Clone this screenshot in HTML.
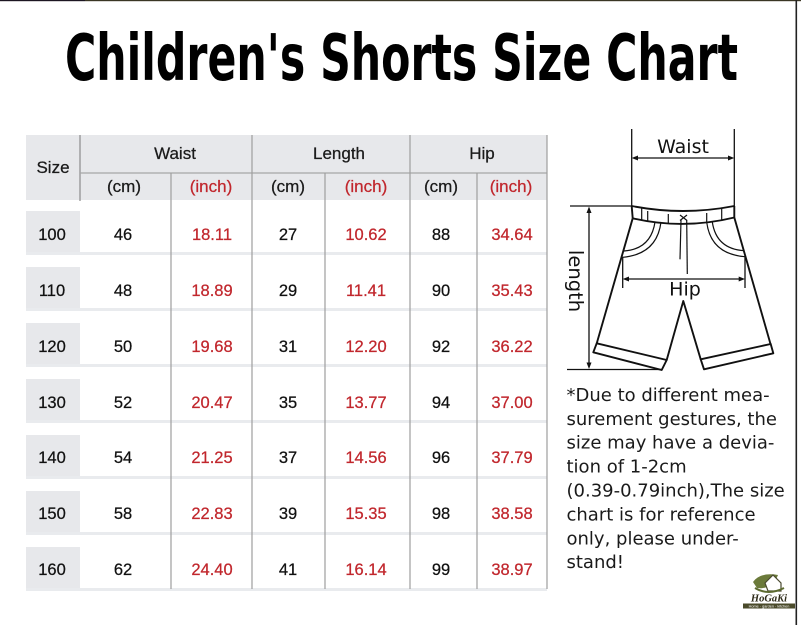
<!DOCTYPE html>
<html><head><meta charset="utf-8"><style>
html,body{margin:0;padding:0;background:#fff;}
svg{display:block;}
</style></head><body>
<svg width="801" height="625" viewBox="0 0 801 625" xmlns="http://www.w3.org/2000/svg">
<rect x="0" y="0" width="801" height="625" fill="#fff"/>
<rect x="0" y="0" width="85" height="1.2" fill="#1c1622"/>
<rect x="85" y="0" width="716" height="1.2" fill="#3a3624"/>
<rect x="795.5" y="0" width="1.6" height="625" fill="#222"/>

<!-- Title -->
<text x="65" y="80" font-family="DejaVu Sans Condensed, DejaVu Sans, Liberation Sans, sans-serif" font-weight="bold" font-size="64" textLength="673" lengthAdjust="spacingAndGlyphs" fill="#000">Children's Shorts Size Chart</text>

<!-- Table header -->
<rect x="26" y="135" width="521" height="65" fill="#e7e8eb"/>
<line x1="80" y1="135" x2="80" y2="201" stroke="#8c8c8c" stroke-width="1.2"/>
<line x1="80" y1="173" x2="547" y2="173" stroke="#a6a6a6" stroke-width="1.2"/>

<!-- data rows -->
<g fill="#e7e8eb">
<rect x="26" y="211" width="54" height="41"/>
<rect x="26" y="267" width="54" height="41"/>
<rect x="26" y="323" width="54" height="41"/>
<rect x="26" y="379" width="54" height="41"/>
<rect x="26" y="435" width="54" height="41"/>
<rect x="26" y="491" width="54" height="41"/>
<rect x="26" y="547" width="54" height="41"/>
</g>
<g fill="#e9ebee">
<rect x="26" y="252" width="521" height="3"/>
<rect x="26" y="308" width="521" height="3"/>
<rect x="26" y="364" width="521" height="3"/>
<rect x="26" y="420" width="521" height="3"/>
<rect x="26" y="476" width="521" height="3"/>
<rect x="26" y="532" width="521" height="3"/>
<rect x="26" y="588" width="521" height="3"/>
</g>

<!-- vertical lines -->
<g stroke="#9e9e9e" stroke-width="1.2">
<line x1="171" y1="173" x2="171" y2="589"/>
<line x1="252" y1="135" x2="252" y2="589"/>
<line x1="325" y1="173" x2="325" y2="589"/>
<line x1="410" y1="135" x2="410" y2="589"/>
<line x1="477" y1="173" x2="477" y2="589"/>
<line x1="547" y1="135" x2="547" y2="589"/>
</g>

<g font-family="Liberation Sans, sans-serif" font-size="17" fill="#1a1a1a" stroke="#1a1a1a" stroke-width="0.25" text-anchor="middle">
<text x="53" y="173">Size</text>
<text x="175" y="159">Waist</text>
<text x="339" y="159">Length</text>
<text x="482" y="159">Hip</text>
<text x="124" y="192">(cm)</text>
<text x="288" y="192">(cm)</text>
<text x="441" y="192">(cm)</text>
<text x="211" y="192" fill="#c1272d" stroke="#c1272d">(inch)</text>
<text x="366" y="192" fill="#c1272d" stroke="#c1272d">(inch)</text>
<text x="511" y="192" fill="#c1272d" stroke="#c1272d">(inch)</text>
</g>

<g font-family="Liberation Sans, sans-serif" font-size="16.5" fill="#111" stroke="#111" stroke-width="0.25" text-anchor="middle">
<text x="52" y="240">100</text>
<text x="52" y="296">110</text>
<text x="52" y="352">120</text>
<text x="52" y="408">130</text>
<text x="52" y="463">140</text>
<text x="52" y="519">150</text>
<text x="52" y="575">160</text>

<text x="123" y="240">46</text>
<text x="123" y="296">48</text>
<text x="123" y="352">50</text>
<text x="123" y="408">52</text>
<text x="123" y="463">54</text>
<text x="123" y="519">58</text>
<text x="123" y="575">62</text>

<text x="288" y="240">27</text>
<text x="288" y="296">29</text>
<text x="288" y="352">31</text>
<text x="288" y="408">35</text>
<text x="288" y="463">37</text>
<text x="288" y="519">39</text>
<text x="288" y="575">41</text>

<text x="441" y="240">88</text>
<text x="441" y="296">90</text>
<text x="441" y="352">92</text>
<text x="441" y="408">94</text>
<text x="441" y="463">96</text>
<text x="441" y="519">98</text>
<text x="441" y="575">99</text>
</g>
<g font-family="Liberation Sans, sans-serif" font-size="16.5" fill="#c1272d" stroke="#c1272d" stroke-width="0.25" text-anchor="middle">
<text x="212" y="240">18.11</text>
<text x="212" y="296">18.89</text>
<text x="212" y="352">19.68</text>
<text x="212" y="408">20.47</text>
<text x="212" y="463">21.25</text>
<text x="212" y="519">22.83</text>
<text x="212" y="575">24.40</text>

<text x="366" y="240">10.62</text>
<text x="366" y="296">11.41</text>
<text x="366" y="352">12.20</text>
<text x="366" y="408">13.77</text>
<text x="366" y="463">14.56</text>
<text x="366" y="519">15.35</text>
<text x="366" y="575">16.14</text>

<text x="512" y="240">34.64</text>
<text x="512" y="296">35.43</text>
<text x="512" y="352">36.22</text>
<text x="512" y="408">37.00</text>
<text x="512" y="463">37.79</text>
<text x="512" y="519">38.58</text>
<text x="512" y="575">38.97</text>
</g>

<!-- Diagram -->
<g stroke="#111" stroke-width="1.3" fill="none">
<line x1="631.7" y1="129" x2="631.7" y2="206"/>
<line x1="734.3" y1="129" x2="734.3" y2="206"/>
<line x1="636" y1="158" x2="730" y2="158"/>
<line x1="570" y1="206" x2="632" y2="206"/>
<line x1="567" y1="369.5" x2="662" y2="369.5"/>
<line x1="589" y1="211" x2="589" y2="365"/>
<line x1="622.7" y1="256.7" x2="622.7" y2="288"/>
<line x1="745" y1="256.7" x2="745" y2="288"/>
<line x1="627" y1="279" x2="741" y2="279"/>
</g>
<g fill="#111">
<polygon points="631.7,158 638,155.5 638,160.5"/>
<polygon points="734.3,158 728,155.5 728,160.5"/>
<polygon points="589,206.5 586.5,213 591.5,213"/>
<polygon points="589,369 586.5,362.5 591.5,362.5"/>
<polygon points="622.7,279 629,276.5 629,281.5"/>
<polygon points="745,279 738.7,276.5 738.7,281.5"/>
</g>
<g font-family="DejaVu Sans, sans-serif" font-size="19" fill="#111" text-anchor="middle">
<text x="683" y="153">Waist</text>
<text x="685" y="295.5">Hip</text>
<text transform="translate(569,281) rotate(90)" font-size="19.5">length</text>
</g>

<g stroke="#111" stroke-width="1.9" fill="none" stroke-linejoin="round">
<path d="M631.7,206 Q683,216 734.3,206"/>
<path d="M632.7,218.3 Q683,230 734.3,217.5"/>
<line x1="631.7" y1="206" x2="632.7" y2="218.3"/>
<line x1="734.3" y1="206" x2="734.3" y2="217.5"/>
<path d="M632.7,218.3 L596.7,343.5"/>
<path d="M734.3,217.5 L770.5,344"/>
<path d="M596.7,343.3 L666.7,360 L661.7,370 L593.3,352.3 Z"/>
<path d="M700.7,359.3 L770.7,344 L773.3,353.3 L704,369.3 Z"/>
<path d="M666.7,360 L683.3,301 L700.7,359.3"/>
</g>
<g stroke="#111" stroke-width="1.2" fill="none">
<line x1="641.7" y1="208" x2="641.7" y2="220"/>
<line x1="647.7" y1="211" x2="647.7" y2="221"/>
<line x1="668.3" y1="214" x2="668.3" y2="223.5"/>
<line x1="706.7" y1="213" x2="706.7" y2="223"/>
<line x1="721.7" y1="209" x2="721.7" y2="220"/>
<path d="M661,222 Q657,254 623,257.3"/>
<path d="M655,222 Q651,249 624,251"/>
<path d="M706.7,222 Q710.7,254 745,256.7"/>
<path d="M712.3,222 Q716.3,249 744.3,250.7"/>
<line x1="680" y1="215" x2="687" y2="220.5"/>
<line x1="687" y1="215" x2="680" y2="220.5"/>
<line x1="681" y1="220" x2="680" y2="259.3"/>
<line x1="686.7" y1="220" x2="687.3" y2="274"/>
</g>

<!-- Note -->
<g font-family="DejaVu Sans, sans-serif" font-size="18" fill="#1a1a1a">
<text x="566.5" y="401">*Due to different mea-</text>
<text x="566.5" y="425">surement gestures, the</text>
<text x="566.5" y="448.5">size may have a devia-</text>
<text x="566.5" y="472.5">tion of 1-2cm</text>
<text x="566.5" y="496.5">(0.39-0.79inch),The size</text>
<text x="566.5" y="520.5">chart is for reference</text>
<text x="566.5" y="544.5">only, please under-</text>
<text x="566.5" y="568">stand!</text>
</g>

<!-- Logo -->
<g>
<path d="M753,582 Q760,572 778,575 Q772,590 757,588 Z" fill="#6b7a3a"/>
<path d="M765,583 L773,575 L781,583 L781,591 L768,591 Z" fill="#fff" stroke="#4a4a30" stroke-width="1.2"/>
<path d="M755,588 Q768,596 784,588" stroke="#5c6a30" stroke-width="2" fill="none"/>
<text x="769" y="601.5" font-family="Liberation Serif, serif" font-style="italic" font-weight="bold" font-size="10.5" fill="#2d2a18" text-anchor="middle">HoGaKi</text>
<rect x="743" y="603.5" width="52" height="5" fill="#4a4a2a"/>
<text x="769" y="607.5" font-family="Liberation Sans, sans-serif" font-size="3.8" fill="#fff" text-anchor="middle">Home · garden · kitchen</text>
</g>
</svg>
</body></html>
